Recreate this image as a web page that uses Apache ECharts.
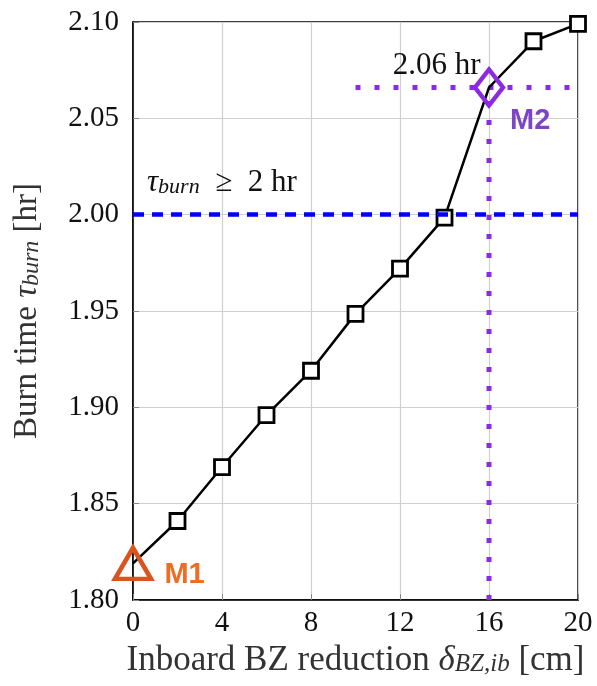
<!DOCTYPE html>
<html>
<head>
<meta charset="utf-8">
<script src="https://cdn.jsdelivr.net/npm/echarts@6/dist/echarts.min.js"></script>
<style>
html,body{margin:0;padding:0;background:#fff;}
#chart1{width:597px;height:686px;}
</style>
</head>
<body>
<div id="chart1"></div>
<script>
// 数据
var bzReduction = [0, 2, 4, 6, 8, 10, 12, 14, 16, 18, 20];
var burnTime = [1.819, 1.841, 1.869, 1.896, 1.919, 1.9485, 1.972, 1.9985, 2.066, 2.090, 2.099];
var m1Point = [0, 1.819];
var m2Point = [16, 2.066];
var burnLimit = 2.00;
var m2HLine = [[10, 2.066], [20, 2.066]];
var m2VLine = [[16, 1.80], [16, 2.066]];
var xTicks = {min: 0, max: 20, step: 4};
var yTicks = {min: 1.80, max: 2.10, step: 0.05};

var serif = 'Liberation Serif';
var purple = '#8a2be2';

function subStyles(size, color) {
	return {
		m: {fontFamily: serif, fontSize: size, color: color, padding: [0, 0, 9, 0]},
		i: {fontFamily: serif, fontSize: size, color: color, fontStyle: 'italic', padding: [0, 0, 9, 0]},
		s: {fontFamily: serif, fontSize: Math.round(size * 0.72), color: color, fontStyle: 'italic'}
	};
}

var myChart = {
	init: function () {
		var mainData = bzReduction.map(function (x, k) {
			var item = {value: [x, burnTime[k]]};
			if (k === 0 || x === m2Point[0]) {
				item.symbol = 'none';
			}
			return item;
		});
		var option = {
			animation: false,
			grid: {
				left: 133,
				right: 19,
				top: 22,
				bottom: 86,
				show: true,
				borderColor: '#000',
				borderWidth: 1.5
			},
			xAxis: {
				type: 'value',
				min: xTicks.min,
				max: xTicks.max,
				interval: xTicks.step,
				name: '{m|Inboard BZ reduction }{i|δ}{s|BZ,ib}{m| [cm]}',
				nameLocation: 'middle',
				nameGap: 40,
				nameTextStyle: {rich: subStyles(35, '#333')},
				axisLine: {lineStyle: {color: '#000', width: 1.5}},
				axisTick: {inside: true, length: 6, lineStyle: {color: '#888'}},
				axisLabel: {fontFamily: serif, fontSize: 29, color: '#111', margin: 9},
				splitLine: {lineStyle: {color: '#cfcfcf', width: 1.2}}
			},
			yAxis: {
				type: 'value',
				min: yTicks.min,
				max: yTicks.max,
				interval: yTicks.step,
				name: '{m|Burn time }{i|τ}{s|burn}{m| [hr]}',
				nameLocation: 'middle',
				nameGap: 80,
				nameTextStyle: {rich: subStyles(33, '#333')},
				axisLine: {lineStyle: {color: '#000', width: 1.5}},
				axisTick: {inside: true, length: 6, lineStyle: {color: '#888'}},
				axisLabel: {
					fontFamily: serif, fontSize: 29, color: '#111', margin: 14,
					formatter: function (v) { return v.toFixed(2); }
				},
				splitLine: {lineStyle: {color: '#cfcfcf', width: 1.2}}
			},
			series: [
				{
					name: 'limit',
					type: 'line',
					data: [],
					markLine: {
						silent: true,
						symbol: 'none',
						lineStyle: {color: '#0000ff', type: [11, 8], width: 4.5},
						label: {
							show: true,
							position: 'insideStartTop',
							distance: [14, 7],
							formatter: '{i|τ}{s|burn}{m|  ≥  2 hr}',
							rich: subStyles(31, '#111')
						},
						data: [{yAxis: burnLimit}]
					}
				},
				{
					name: 'm2h',
					type: 'line',
					data: m2HLine,
					symbol: 'none',
					lineStyle: {color: purple, width: 5, type: [5, 14]},
					z: 3
				},
				{
					name: 'm2v',
					type: 'line',
					data: m2VLine,
					symbol: 'none',
					lineStyle: {color: purple, width: 5, type: [5, 14]},
					z: 3
				},
				{
					name: 'burn',
					type: 'line',
					data: mainData,
					symbol: 'rect',
					symbolSize: 15,
					showAllSymbol: true,
					lineStyle: {color: '#000', width: 2.5},
					itemStyle: {color: '#fff', borderColor: '#000', borderWidth: 2.8},
					z: 4
				},
				{
					name: 'M2',
					type: 'scatter',
					data: [m2Point],
					symbol: 'diamond',
					symbolSize: [28, 36],
					itemStyle: {opacity: 1, color: 'rgba(255,255,255,0)', borderColor: purple, borderWidth: 4.5},
					label: {
						show: true,
						position: 'right',
						distance: 5,
						offset: [0, 33],
						formatter: 'M2',
						fontFamily: 'Liberation Sans',
						fontWeight: 'bold',
						fontSize: 29,
						color: '#7d44c8'
					},
					z: 5
				},
				{
					name: 'M2val',
					type: 'scatter',
					data: [m2Point],
					symbolSize: 1,
					itemStyle: {opacity: 1, color: 'rgba(0,0,0,0)'},
					label: {
						show: true,
						position: 'left',
						distance: 8,
						offset: [0, -22],
						formatter: '2.06 hr',
						fontFamily: serif,
						fontSize: 31,
						color: '#111'
					},
					z: 5
				},
				{
					name: 'M1',
					type: 'scatter',
					data: [m1Point],
					symbol: 'triangle',
					symbolSize: [36, 31],
					itemStyle: {opacity: 1, color: 'rgba(255,255,255,0)', borderColor: '#d9541e', borderWidth: 4.5},
					label: {
						show: true,
						position: 'right',
						distance: 11,
						offset: [0, 12],
						formatter: 'M1',
						fontFamily: 'Liberation Sans',
						fontWeight: 'bold',
						fontSize: 29,
						color: '#ef6c23'
					},
					z: 5
				}
			]
		};
		var chart = echarts.init(document.getElementById('chart1'));
		chart.setOption(option);
		return chart;
	}
};

var chartObj = myChart.init();
window.addEventListener('resize', function () {
	chartObj.resize();
});
</script>
</body>
</html>
